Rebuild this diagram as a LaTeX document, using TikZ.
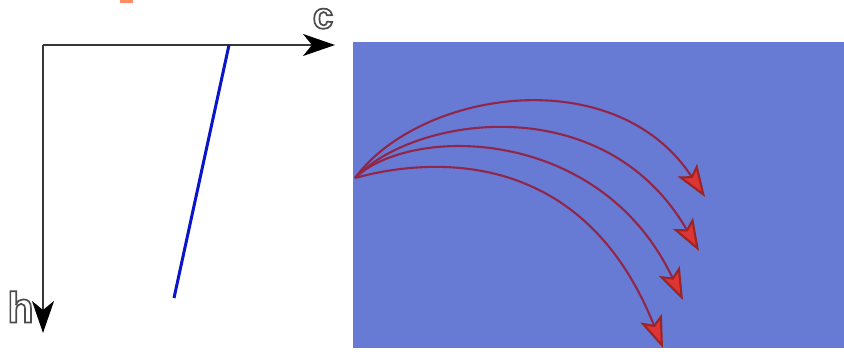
\documentclass[tikz,border=0pt]{standalone}
\usepackage{fontspec}
\setmainfont{Liberation Sans}
\usetikzlibrary{arrows.meta}
\definecolor{panel}{RGB}{103,122,212}
\definecolor{axisgray}{RGB}{55,55,55}
\definecolor{lettergray}{RGB}{80,80,80}
\definecolor{shaft}{RGB}{145,38,72}
\definecolor{head}{RGB}{222,52,52}
\definecolor{lineblue}{RGB}{10,20,200}
\definecolor{tag}{RGB}{255,140,100}
\newcommand{\outlinetext}[1]{\special{pdf:literal direct q 0.3 G 1.7 w 1 Tr}#1\special{pdf:literal direct 0 Tr Q}}
\tikzset{
  axis/.style={draw=axisgray, line width=1.6pt, -{Stealth[length=32pt,width=22pt,inset=9pt,color=black,fill=black]}},
  flow/.style={draw=shaft, line width=2.1pt, -{Stealth[length=32pt,width=23pt,inset=7pt,color=head!70!black,fill=head]}},
  letter/.style={inner sep=0pt, text=lettergray},
}
\begin{document}
\begin{tikzpicture}[x=1pt,y=-1pt]
\useasboundingbox (0,0) rectangle (844,351);
\fill[white] (0,0) rectangle (844,351);
\fill[tag] (120,0) rectangle (133,2.5);
% axes
\coordinate (o) at (43,45);
\coordinate (ce) at (335,45);
\coordinate (he) at (43,333);
\draw[axis] (o) -- (ce);
\draw[axis] (o) -- (he);
\node[letter, anchor=base, font=\fontsize{37}{37}\selectfont\bfseries] (c) at (323,28.5) {\outlinetext{c}};
\node[letter, anchor=base, font=\fontsize{43}{43}\selectfont\bfseries] (h) at (20.5,322.5) {\outlinetext{h}};
% blue line
\coordinate (b1) at (229,45);
\coordinate (b2) at (174,298);
\draw[lineblue, line width=3pt] (b1) -- (b2);
% panel
\fill[panel] (353,42) rectangle (844,348);
% arrows
\coordinate (s) at (355,178);
\coordinate (t1) at (705,197);
\coordinate (t2) at (699,251);
\coordinate (t3) at (683,300);
\coordinate (t4) at (663,348);
\draw[flow] (s) .. controls (420,90) and (615,60) .. (t1);
\draw[flow] (s) .. controls (415,115) and (605,88) .. (t2);
\draw[flow] (s) .. controls (410,125) and (600,125) .. (t3);
\draw[flow] (s) .. controls (420,160) and (580,140) .. (t4);
\end{tikzpicture}
\end{document}
